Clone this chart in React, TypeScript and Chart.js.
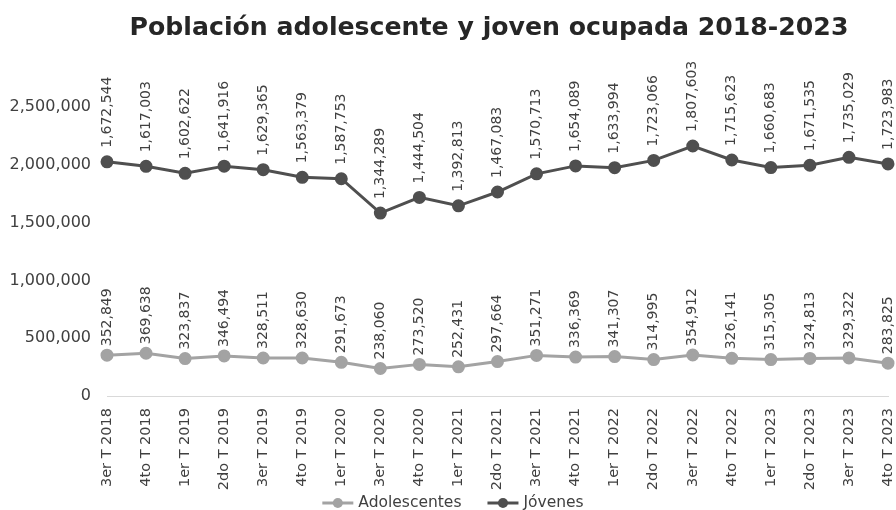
import { useEffect, useRef } from "react";
import { Chart, registerables } from "chart.js";

Chart.register(...registerables);

const categories = [
  "3er T 2018", "4to T 2018", "1er T 2019", "2do T 2019", "3er T 2019", "4to T 2019",
  "1er T 2020", "3er T 2020", "4to T 2020", "1er T 2021", "2do T 2021", "3er T 2021",
  "4to T 2021", "1er T 2022", "2do T 2022", "3er T 2022", "4to T 2022", "1er T 2023",
  "2do T 2023", "3er T 2023", "4to T 2023",
];

const adolescentes = [
  352849, 369638, 323837, 346494, 328511, 328630, 291673, 238060, 273520, 252431, 297664,
  351271, 336369, 341307, 314995, 354912, 326141, 315305, 324813, 329322, 283825,
];

const jovenes = [
  1672544, 1617003, 1602622, 1641916, 1629365, 1563379, 1587753, 1344289, 1444504, 1392813,
  1467083, 1570713, 1654089, 1633994, 1723066, 1807603, 1715623, 1660683, 1671535, 1735029,
  1723983,
];

const seriesNames = ["Adolescentes", "Jóvenes"];
const seriesColors = ["#a3a3a3", "#4f4f4f"];
const labelOffsets = [9, 14];

const title = "Población adolescente y joven ocupada 2018-2023";
const yMax = 2500000;
const yStep = 500000;

const FONT = "'DejaVu Sans', sans-serif";

export default function App() {
  const ref = useRef<HTMLCanvasElement>(null);

  useEffect(() => {
    if (!ref.current) return;
    const fmt = (v: number) => v.toLocaleString("en-US");

    const valueLabels = {
      id: "valueLabels",
      afterDatasetsDraw(chart: any) {
        const ctx = chart.ctx;
        chart.data.datasets.forEach((ds: any, i: number) => {
          const meta = chart.getDatasetMeta(i);
          meta.data.forEach((pt: any, j: number) => {
            ctx.save();
            ctx.translate(pt.x, pt.y - labelOffsets[i]);
            ctx.rotate(-Math.PI / 2);
            ctx.font = `14px ${FONT}`;
            ctx.fillStyle = "#404040";
            ctx.textAlign = "left";
            ctx.textBaseline = "middle";
            ctx.fillText(fmt(ds.data[j]), 0, 0);
            ctx.restore();
          });
        });
      },
    };

    const titleAndLegend = {
      id: "titleAndLegend",
      afterDraw(chart: any) {
        const ctx = chart.ctx;
        ctx.save();
        ctx.font = `bold 25.2px ${FONT}`;
        ctx.fillStyle = "#262626";
        ctx.textAlign = "center";
        ctx.textBaseline = "alphabetic";
        ctx.fillText(title, 489, 35);

        ctx.font = `15.5px ${FONT}`;
        const lineW = 31;
        const gap = 5;
        const itemGap = 26;
        const widths = seriesNames.map((n) => ctx.measureText(n).width);
        const total = widths.reduce((a, w) => a + lineW + gap + w, 0) + itemGap * (seriesNames.length - 1);
        let x = 453 - total / 2;
        const y = 503;
        seriesNames.forEach((n, i) => {
          ctx.strokeStyle = seriesColors[i];
          ctx.fillStyle = seriesColors[i];
          ctx.lineWidth = 3;
          ctx.beginPath();
          ctx.moveTo(x, y);
          ctx.lineTo(x + lineW, y);
          ctx.stroke();
          ctx.beginPath();
          ctx.arc(x + lineW / 2, y, 5, 0, Math.PI * 2);
          ctx.fill();
          ctx.fillStyle = "#404040";
          ctx.textAlign = "left";
          ctx.textBaseline = "middle";
          ctx.fillText(n, x + lineW + gap, y);
          x += lineW + gap + widths[i] + itemGap;
        });
        ctx.restore();
      },
    };

    const chart = new Chart(ref.current, {
      type: "line",
      data: {
        labels: categories,
        datasets: [adolescentes, jovenes].map((d, i) => ({
          label: seriesNames[i],
          data: d,
          borderColor: seriesColors[i],
          backgroundColor: seriesColors[i],
          pointBackgroundColor: seriesColors[i],
          pointBorderColor: seriesColors[i],
          borderWidth: 3,
          pointRadius: 5,
          pointHoverRadius: 5,
          fill: false,
          tension: 0,
        })),
      },
      options: {
        responsive: false,
        animation: false,
        layout: { padding: { left: 0, right: 8, top: 107, bottom: 0 } },
        plugins: {
          legend: { display: false },
          tooltip: { enabled: false },
          title: { display: false },
        },
        scales: {
          x: {
            offset: false,
            grid: { display: false },
            border: { display: true, color: "#d9d9d9", width: 1 },
            ticks: {
              color: "#404040",
              font: { family: FONT, size: 14.5 },
              maxRotation: 90,
              minRotation: 90,
              autoSkip: false,
              padding: 4,
            },
            afterFit(scale: any) {
              scale.height = 114;
              scale.paddingLeft = 0;
              scale.paddingRight = 0;
            },
          },
          y: {
            stacked: true,
            min: 0,
            max: yMax,
            grid: { display: false },
            border: { display: false },
            ticks: {
              stepSize: yStep,
              color: "#404040",
              font: { family: FONT, size: 16 },
              padding: 8,
              callback: (v: any) => fmt(Number(v)),
            },
            afterFit(scale: any) {
              scale.width = 107;
              scale.paddingTop = 0;
              scale.paddingBottom = 0;
            },
          },
        },
      },
      plugins: [valueLabels, titleAndLegend],
    });
    return () => chart.destroy();
  }, []);

  return (
    <div style={{ position: "absolute", left: 0, top: 0, width: 896, height: 510 }}>
      <canvas ref={ref} width={896} height={510} style={{ display: "block" }} />
    </div>
  );
}
